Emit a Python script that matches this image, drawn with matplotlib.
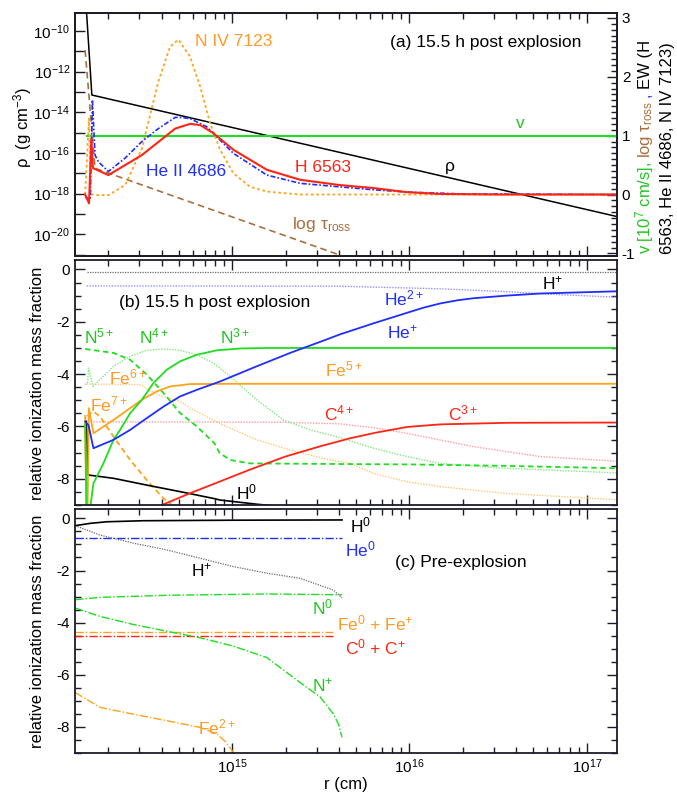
import numpy as np
import matplotlib
matplotlib.use("Agg")
import matplotlib.pyplot as plt
from matplotlib.ticker import MultipleLocator, FixedLocator, NullFormatter

plt.rcParams['font.family'] = ['Liberation Sans', 'DejaVu Sans']
plt.rcParams['mathtext.fontset'] = 'custom'
plt.rcParams['mathtext.rm'] = 'Liberation Sans'
plt.rcParams['mathtext.it'] = 'Liberation Sans:italic'
plt.rcParams['mathtext.bf'] = 'Liberation Sans:bold'
plt.rcParams['axes.unicode_minus'] = False

# ---------------- panel (a): 15.5 h post explosion ----------------
rho_logr = [14.160, 14.180, 14.209, 17.20]
rho_exp = [-8.4, -9.21, -13.15, -19.19]

v_logr = [14.180, 17.20]
v_val = [1.0, 1.0]

tau_logr = [14.171, 14.186, 14.227, 15.609, 15.70]
tau_val = [2.45, 1.92, 0.445, -1.03, -1.13]

h6563_logr = [14.171, 14.193, 14.206, 14.215, 14.302, 14.491, 14.679, 14.763, 14.820,
              14.895, 15.007, 15.196, 15.384, 15.609, 15.797, 15.985, 16.173, 16.5, 17.2]
h6563_ew = [0.0, -0.15, 0.95, 0.45, 0.33, 0.67, 1.12, 1.20, 1.18,
            1.04, 0.76, 0.42, 0.25, 0.16, 0.11, 0.04, 0.01, 0.0, 0.0]

heii_logr = [14.171, 14.200, 14.212, 14.227, 14.245, 14.302, 14.397, 14.491, 14.584, 14.679,
             14.707, 14.763, 14.857, 15.007, 15.196, 15.384, 15.609, 15.8, 16.0, 16.3, 17.2]
heii_ew = [-0.04, -0.09, 1.61, 0.67, 0.56, 0.39, 0.62, 0.90, 1.12, 1.31,
           1.31, 1.29, 1.15, 0.70, 0.33, 0.19, 0.13, 0.08, 0.04, 0.01, 0.0]

niv_logr = [14.171, 14.188, 14.193, 14.203, 14.227, 14.302, 14.397, 14.491, 14.584, 14.650,
            14.697, 14.763, 14.820, 14.876, 14.932, 15.007, 15.102, 15.196, 15.384, 17.2]
niv_ew = [0.0, 1.0, 1.29, 0.01, -0.01, -0.01, 0.16, 0.78, 1.92, 2.51,
          2.63, 2.34, 1.83, 1.21, 0.76, 0.36, 0.13, 0.05, 0.0, 0.0]

# ---------------- panel (b): ionization, 15.5 h ----------------
hp_logr = [14.180, 17.2]
hp = [-0.09, -0.09]

he_dot_logr = [14.180, 15.6, 16.173, 16.549, 16.83, 17.2]
he_dot = [-0.63, -0.64, -0.74, -0.85, -0.96, -1.07]

he_sol_logr = [14.171, 14.190, 14.218, 14.331, 14.425, 14.519, 14.613, 14.707, 14.801, 14.932,
               15.139, 15.327, 15.515, 15.609, 15.797, 15.985, 16.08, 16.173, 16.27, 16.361,
               16.549, 16.737, 17.2]
he_sol = [-5.81, -5.95, -6.83, -6.51, -6.13, -5.68, -5.24, -4.85, -4.60, -4.28,
          -3.70, -3.19, -2.72, -2.48, -2.06, -1.66, -1.46, -1.30, -1.18, -1.10,
          -1.00, -0.92, -0.83]

n3_logr = [14.171, 14.181, 14.190, 14.218, 14.274, 14.331, 14.368, 14.425, 14.491, 14.556,
           14.632, 14.707, 14.801, 14.914, 15.05, 15.2, 17.2]
n3 = [-5.9, -9.6, -9.6, -8.17, -7.41, -6.51, -6.13, -5.49, -4.98, -4.34,
      -3.83, -3.51, -3.26, -3.09, -3.02, -3.0, -3.0]

n4_logr = [14.171, 14.186, 14.190, 14.216, 14.331, 14.425, 14.519, 14.613, 14.707, 14.801, 14.895,
           14.989, 15.139, 15.289, 15.44, 15.591, 15.797, 15.985, 16.173, 16.549, 17.2]
n4 = [-4.4, -4.3, -3.77, -4.47, -3.70, -3.32, -3.09, -3.04, -3.09, -3.26, -3.58,
      -4.09, -4.98, -5.75, -6.13, -6.39, -6.83, -7.15, -7.41, -7.6, -7.78]

n5_logr = [14.171, 14.331, 14.425, 14.519, 14.613, 14.707, 14.801, 14.90, 14.93, 14.99,
           15.10, 15.5, 16.0, 16.5, 17.2]
n5 = [-3.04, -3.19, -3.45, -4.02, -4.72, -5.49, -6.0, -6.64, -7.02, -7.28,
      -7.41, -7.43, -7.45, -7.5, -7.6]

fe5_logr = [14.171, 14.178, 14.184, 14.192, 14.218, 14.331, 14.425, 14.491, 14.575, 14.650,
            14.763, 15.0, 17.2]
fe5 = [-5.6, -9.6, -9.6, -5.3, -6.26, -5.75, -5.30, -4.98, -4.66, -4.47,
       -4.38, -4.37, -4.37]

fe6_logr = [14.180, 14.48, 14.584, 14.707, 14.763, 14.85, 14.951, 15.139, 15.327, 15.515,
            15.666, 15.797, 15.985, 16.173, 16.549, 17.2]
fe6 = [-4.38, -4.40, -4.79, -5.04, -5.30, -5.6, -5.95, -6.51, -6.90, -7.22,
       -7.41, -7.79, -8.11, -8.30, -8.56, -8.81]

fe7_logr = [14.183, 14.200, 14.218, 14.255, 14.331, 14.425, 14.519, 14.613, 14.679]
fe7 = [-5.6, -5.5, -5.43, -5.62, -6.39, -7.28, -8.05, -8.75, -9.1]

c4_logr = [14.171, 15.3, 15.609, 15.8, 15.985, 16.361, 16.737, 17.2]
c4 = [-5.82, -5.84, -5.90, -6.05, -6.26, -6.77, -7.15, -7.34]

c3_logr = [14.604, 14.763, 14.932, 15.1, 15.3, 15.5, 15.666, 15.8, 15.985, 16.173, 16.549, 17.2]
c3 = [-9.0, -8.55, -8.1, -7.65, -7.15, -6.75, -6.45, -6.25, -6.02, -5.92, -5.86, -5.85]

h0_logr = [14.178, 14.186, 14.218, 14.331, 14.519, 14.707, 14.895, 14.932, 15.139, 15.289]
h0 = [-5.8, -7.85, -7.88, -7.98, -8.24, -8.49, -8.75, -8.81, -8.97, -9.07]

# ---------------- panel (c): pre-explosion ----------------
h0c_logr = [14.115, 14.2, 14.293, 14.5, 15.0, 15.62]
h0c = [-0.28, -0.19, -0.13, -0.09, -0.07, -0.06]

he0c_logr = [14.115, 15.62]
he0c = [-0.76, -0.76]

hpc_logr = [14.115, 14.255, 14.443, 14.632, 14.820, 15.007, 15.196, 15.384, 15.571, 15.62]
hpc = [-0.28, -0.64, -0.95, -1.21, -1.53, -1.85, -2.10, -2.30, -2.75, -3.05]

n0c_logr = [14.115, 14.255, 14.632, 15.196, 15.62]
n0c = [-3.12, -3.03, -2.95, -2.90, -2.93]

fe0c_logr = [14.115, 15.57]
fe0c = [-4.37, -4.37]

c0c_logr = [14.115, 15.57]
c0c = [-4.53, -4.53]

npc_logr = [14.115, 14.255, 14.443, 14.632, 14.820, 15.007, 15.196, 15.384, 15.496, 15.571, 15.60, 15.62]
npc = [-3.44, -3.76, -4.07, -4.33, -4.58, -4.90, -5.34, -6.3, -6.85, -7.5, -7.9, -8.4]

fe2c_logr = [14.115, 14.255, 14.443, 14.632, 14.820, 14.914, 14.96, 15.007]
fe2c = [-6.68, -7.25, -7.51, -7.76, -8.02, -8.27, -8.55, -8.97]

# colours
GREEN = '#1ede1e'
GREEN_T = '#22c422'
BLUE = '#1f2eff'
RED = '#ff2414'
ORANGE = '#ffa31a'
ORANGE_T = '#ff9a26'
BROWN = '#a8703f'
LGREEN = '#80ea80'
LORANGE = '#ffc878'
LRED = '#ff9c9c'
LBLUE = '#9090ff'
GRAY = '#6a6a6a'
SPINE = '#1c1c2a'

FS = 12.5      # annotation size
TS = 11        # tick label size

W, H = 677, 793
fig = plt.figure(figsize=(W / 100, H / 100), dpi=100)


def r(logr):
    return 10 ** np.asarray(logr, dtype=float)


def panel(top, bottom):
    ax = fig.add_axes([75 / W, 1 - bottom / H, (617 - 75) / W, (bottom - top) / H])
    ax.set_xscale('log')
    ax.set_xlim(1.30e14, 1.48e17)
    ax.tick_params(which='both', direction='in', top=True, width=1.0, labelsize=TS,
                   color=SPINE)
    ax.tick_params(which='major', length=7)
    ax.tick_params(which='minor', length=4)
    for s in ax.spines.values():
        s.set_linewidth(1.3)
        s.set_color(SPINE)
    return ax


def ion_axis(ax):
    ax.set_ylim(-9.0, 0.36)
    ax.yaxis.set_major_locator(MultipleLocator(2))
    ax.yaxis.set_minor_locator(MultipleLocator(0.5))
    ax.tick_params(axis='y', which='both', right=True)


def label(x, y, s, color='k', size=FS, ha='center'):
    fig.text(x / W, 1 - y / H, s, color=color, fontsize=size, ha=ha, va='center')


# ---- panel a ----
ax_a = panel(13, 256)
ax_a.set_yscale('log')
ax_a.set_ylim(10 ** -21.07, 10 ** -9.115)
ax_a.yaxis.set_major_locator(FixedLocator([10.0 ** e for e in range(-20, -9, 2)]))
ax_a.yaxis.set_minor_locator(FixedLocator([10.0 ** e for e in range(-21, -8, 2)]))
ax_a.yaxis.set_minor_formatter(NullFormatter())
ax_a.tick_params(axis='y', which='both', length=7, right=False)
ax_a.tick_params(axis='x', labelbottom=False)
ax_a.plot(r(rho_logr), 10 ** np.array(rho_exp), color='k', lw=1.1)

ax_r = ax_a.twinx()
ax_r.set_ylim(-1.044, 3.083)
ax_r.yaxis.set_major_locator(MultipleLocator(1))
ax_r.yaxis.set_minor_locator(MultipleLocator(0.1))
ax_r.tick_params(which='both', direction='in', width=1.0, labelsize=TS, color=SPINE)
ax_r.tick_params(which='major', length=7)
ax_r.tick_params(which='minor', length=4)
for s in ax_r.spines.values():
    s.set_linewidth(1.3)
    s.set_color(SPINE)
ax_r.plot(r(v_logr), v_val, color=GREEN, lw=1.5)
ax_r.plot(r(tau_logr), tau_val, color=BROWN, lw=1.2, ls=(0, (4, 2.5)))
ax_r.plot(r(niv_logr), niv_ew, color=ORANGE, lw=1.3, ls=(0, (1.5, 1.5)))
ax_r.plot(r(heii_logr), heii_ew, color=BLUE, lw=1.2, ls=(0, (3, 1.2, 1, 1.2)))
ax_r.plot(r(h6563_logr), h6563_ew, color=RED, lw=1.5)

label(234, 42, 'N IV 7123', ORANGE_T)
label(486, 42, '(a) 15.5 h post explosion')
label(186, 172, 'He II 4686', BLUE)
label(323, 168, 'H 6563', RED)
label(450, 166, 'ρ')
label(520, 124, 'v', GREEN_T)
label(322, 224, r'log τ$_{\mathregular{ross}}$', BROWN)
fig.text(23 / W, 1 - 128 / H, r'ρ  (g cm$^{-3}$)', rotation=90, fontsize=12,
         ha='center', va='center')

# right-hand multi-coloured axis title
renderer = fig.canvas.get_renderer()


def stack(xpix, ypix, pieces, size=12):
    y = 1 - ypix / H
    for s, c, gap in pieces:
        t = fig.text(xpix / W, y, s, color=c, fontsize=size, rotation=90,
                     rotation_mode='anchor', ha='left', va='baseline')
        bb = t.get_window_extent(renderer)
        y = (bb.y1 + gap) / fig.bbox.height


stack(650, 254, [(r'v [10$^7$ cm/s],', GREEN_T, 4),
                 (r'log τ$_{\mathregular{ross}}$', BROWN, 3),
                 (',', BLUE, 4),
                 ('EW (H', 'k', 0)])
stack(672, 254, [('6563, He II 4686, N IV 7123)', 'k', 0)])

# ---- panel b ----
ax_b = panel(260, 505)
ion_axis(ax_b)
ax_b.tick_params(axis='x', labelbottom=False)
ax_b.plot(r(hp_logr), hp, color=GRAY, lw=0.9, ls=(0, (1, 1)))
ax_b.plot(r(he_dot_logr), he_dot, color=LBLUE, lw=1.0, ls=(0, (1, 1)))
ax_b.plot(r(c4_logr), c4, color=LRED, lw=1.0, ls=(0, (1, 1)))
ax_b.plot(r(fe6_logr), fe6, color=LORANGE, lw=1.0, ls=(0, (1, 1)))
ax_b.plot(r(n4_logr), n4, color=LGREEN, lw=1.0, ls=(0, (1, 1)))
ax_b.plot(r(n5_logr), n5, color=GREEN, lw=1.3, ls=(0, (3, 2)))
ax_b.plot(r(fe7_logr), fe7, color=ORANGE, lw=1.3, ls=(0, (3, 2)))
ax_b.plot(r(h0_logr), h0, color='k', lw=1.2)
ax_b.plot(r(c3_logr), c3, color=RED, lw=1.3)
ax_b.plot(r(fe5_logr), fe5, color=ORANGE, lw=1.3)
ax_b.plot(r(n3_logr), n3, color=GREEN, lw=1.3)
ax_b.plot(r(he_sol_logr), he_sol, color=BLUE, lw=1.3)

label(215, 303, '(b) 15.5 h post explosion')
label(99, 336, r'N$^{5+}$', GREEN_T)
label(154, 336, r'N$^{4+}$', GREEN_T)
label(235, 336, r'N$^{3+}$', GREEN_T)
label(128, 377, r'Fe$^{6+}$', ORANGE_T)
label(109, 404, r'Fe$^{7+}$', ORANGE_T)
label(344, 369, r'Fe$^{5+}$', ORANGE_T)
label(339, 413, r'C$^{4+}$', RED)
label(463, 413, r'C$^{3+}$', RED)
label(404, 298, r'He$^{2+}$', BLUE)
label(402, 332, r'He$^{+}$', BLUE)
label(553, 283, r'H$^{+}$')
label(247, 492, r'H$^{0}$')
fig.text(38 / W, 1 - 383.5 / H, 'relative ionization mass fraction', rotation=90,
         fontsize=12, ha='center', va='center')

# ---- panel c ----
ax_c = panel(509, 753)
ion_axis(ax_c)
dashdot = (0, (6, 1.5, 1, 1.5))
ax_c.plot(r(hpc_logr), hpc, color=GRAY, lw=0.9, ls=(0, (1, 1)))
ax_c.plot(r(h0c_logr), h0c, color='k', lw=1.2)
ax_c.plot(r(he0c_logr), he0c, color=BLUE, lw=1.0, ls=dashdot)
ax_c.plot(r(n0c_logr), n0c, color=GREEN, lw=1.0, ls=dashdot)
ax_c.plot(r(fe0c_logr), fe0c, color=ORANGE, lw=1.0, ls=dashdot)
ax_c.plot(r(c0c_logr), c0c, color=RED, lw=1.0, ls=dashdot)
ax_c.plot(r(npc_logr), npc, color=GREEN, lw=1.0, ls=dashdot)
ax_c.plot(r(fe2c_logr), fe2c, color=ORANGE, lw=1.0, ls=dashdot)

label(350, 525, r'H$^{0}$', ha='left')
label(345, 549, r'He$^{0}$', BLUE, ha='left')
label(202, 570, r'H$^{+}$')
label(323, 607, r'N$^{0}$', GREEN_T)
label(337, 623, r'Fe$^{0}$ + Fe$^{+}$', ORANGE_T, ha='left')
label(345, 647, r'C$^{0}$ + C$^{+}$', RED, ha='left')
label(323, 685, r'N$^{+}$', GREEN_T)
label(217, 727, r'Fe$^{2+}$', ORANGE_T)
label(461, 562, '(c) Pre-explosion')
fig.text(38 / W, 1 - 631 / H, 'relative ionization mass fraction', rotation=90,
         fontsize=12, ha='center', va='center')
label(346, 784, 'r (cm)', size=12)

fig.savefig('out.png', dpi=100)
